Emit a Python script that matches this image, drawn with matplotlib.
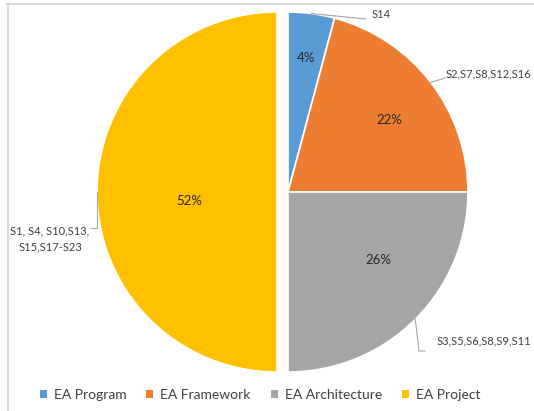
import numpy as np
import matplotlib
matplotlib.use("Agg")
import matplotlib.pyplot as plt
from matplotlib.patches import Patch
from matplotlib.lines import Line2D

plt.rcParams['font.family'] = ['Lato', 'DejaVu Sans']

# the data
categories = ['EA Program', 'EA Framework', 'EA Architecture', 'EA Project']
counts = [1, 5, 6, 12]
pct_labels = ['4%', '22%', '26%', '52%']
studies = ['S14', 'S2,S7,S8,S12,S16', 'S3,S5,S6,S8,S9,S11',
           'S1, S4, S10,S13,\nS15,S17-S23']
colors = ['#5B9BD5', '#ED7D31', '#A5A5A5', '#FFC000']

W, H = 534, 411
fig = plt.figure(figsize=(W / 100, H / 100), dpi=100)
ax = fig.add_axes([0, 0, 1, 1])

cx, cy, r = 288, H - 192, 180
explode = [0, 0, 0, 11]
wedges, _ = ax.pie(counts, colors=colors, startangle=90, counterclock=False,
                   center=(cx, cy), radius=r, explode=explode, frame=True,
                   wedgeprops=dict(edgecolor='white', linewidth=1.2))
ax.set_xlim(0, W)
ax.set_ylim(0, H)
ax.set_aspect('auto')
ax.axis('off')

# percentage labels inside slices
pct_dist = [0.75, 0.69, 0.63, 0.49]
pct_shift = [0, -2, 8, 6]
for w, lab, d, sh in zip(wedges, pct_labels, pct_dist, pct_shift):
    ang = np.deg2rad((w.theta1 + w.theta2) / 2 + sh)
    x0, y0 = w.center
    ax.text(x0 + d * r * np.cos(ang), y0 + d * r * np.sin(ang), lab,
            ha='center', va='center', fontsize=9.5, color='#262626')

# outer labels with leader lines
bends = [[(366, 19)], [(445, 78)], [(419, 351), (425, 351)], [(97, 228), (91, 228)]]
text_pos = [(372, 15, 'left'), (446, 74, 'left'), (437, 341, 'left'), (50, 239, 'center')]
for w, lab, pts, (tx, ty, ha) in zip(wedges, studies, bends, text_pos):
    ang = np.deg2rad((w.theta1 + w.theta2) / 2)
    x0, y0 = w.center
    xs = [x0 + r * np.cos(ang)] + [p[0] for p in pts]
    ys = [y0 + r * np.sin(ang)] + [H - p[1] for p in pts]
    ax.plot(xs, ys, color='#A6A6A6', lw=0.8)
    ax.text(tx, H - ty, lab, ha=ha, va='center', fontsize=8,
            color='#404040', linespacing=1.5)

# legend
handles = [Patch(facecolor=c, edgecolor='none') for c in colors]
ax.legend(handles, categories, loc='center', bbox_to_anchor=(260 / W, 1 - 395 / H),
          ncol=4, frameon=False, fontsize=10, handlelength=0.5, handleheight=0.5,
          handletextpad=0.5, columnspacing=1.45, labelcolor='#404040')

# chart frame
fig.add_artist(Line2D([7 / W, 1], [1 - 4.5 / H, 1 - 4.5 / H], color='#D9D9D9', lw=1.5))
fig.add_artist(Line2D([7.5 / W, 7.5 / W], [0, 1 - 4 / H], color='#D9D9D9', lw=1.5))

fig.savefig('out.png', dpi=100)
